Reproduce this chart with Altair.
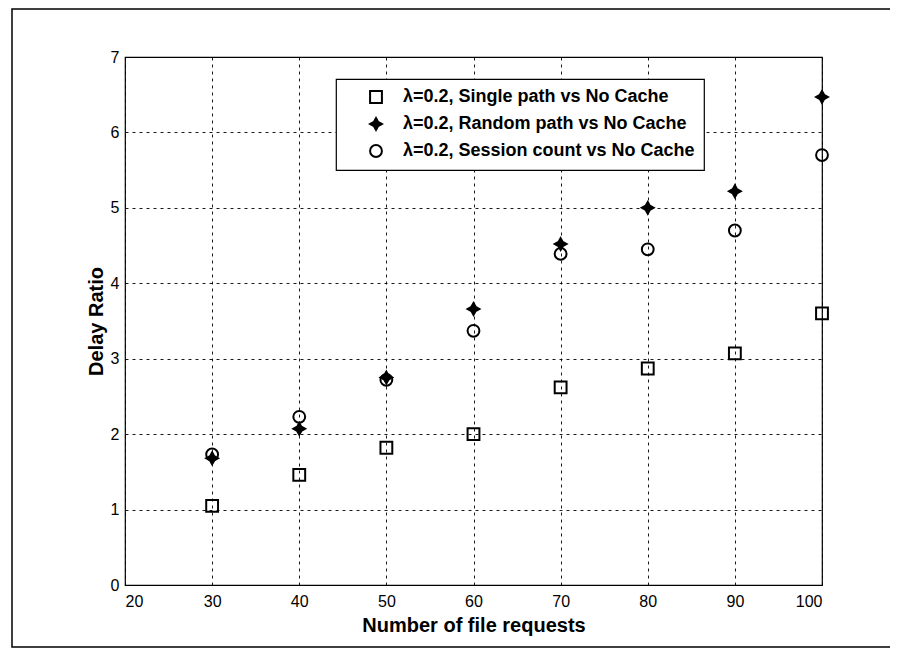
import altair as alt
import pandas as pd

requests = [30, 40, 50, 60, 70, 80, 90, 100]
single_path = [1.05, 1.46, 1.82, 2.00, 2.62, 2.87, 3.07, 3.60]
random_path = [1.68, 2.07, 2.75, 3.66, 4.52, 5.00, 5.22, 6.47]
session_count = [1.73, 2.23, 2.72, 3.37, 4.39, 4.45, 4.70, 5.70]

series_names = [
    "\u03bb=0.2, Single path vs No Cache",
    "\u03bb=0.2, Random path vs No Cache",
    "\u03bb=0.2, Session count vs No Cache",
]
x_ticks = [20, 30, 40, 50, 60, 70, 80, 90, 100]
y_ticks = [0, 1, 2, 3, 4, 5, 6, 7]

rows = []
for name, vals in zip(series_names, [single_path, random_path, session_count]):
    for r, v in zip(requests, vals):
        rows.append({"requests": r, "ratio": v, "series": name})
df = pd.DataFrame(rows)

star = "M0,-1 L0.36,-0.36 L1,0 L0.36,0.36 L0,1 L-0.36,0.36 L-1,0 L-0.36,-0.36 Z"

font = "Liberation Sans"
PW, PH = 697, 528

points = alt.Chart(df).mark_point(strokeWidth=2, size=140, opacity=1).encode(
    x=alt.X("requests:Q",
            scale=alt.Scale(domain=[20, 100], nice=False, zero=False),
            axis=alt.Axis(values=x_ticks, title="Number of file requests")),
    y=alt.Y("ratio:Q",
            scale=alt.Scale(domain=[0, 7], nice=False),
            axis=alt.Axis(values=y_ticks, title="Delay Ratio")),
    shape=alt.Shape("series:N",
                    scale=alt.Scale(domain=series_names, range=["square", star, "circle"]),
                    sort=series_names, title=None),
    fill=alt.Fill("series:N",
                  scale=alt.Scale(domain=series_names, range=["transparent", "black", "transparent"]),
                  sort=series_names, title=None),
    stroke=alt.Stroke("series:N",
                      scale=alt.Scale(domain=series_names, range=["black", "black", "black"]),
                      sort=series_names, title=None),
)

frame_data = alt.Data(values=[{"k": 1}])
page_frame = alt.Chart(frame_data).mark_rect(
    fill="transparent", stroke="black", strokeWidth=1.5
).encode(
    x=alt.value(-113), x2=alt.value(820), y=alt.value(-48), y2=alt.value(590))

chart = alt.layer(page_frame, points).properties(
    width=PW, height=PH,
    autosize=alt.AutoSizeParams(type="none"),
    padding={"left": 117, "top": 49, "right": 68, "bottom": 64},
    background="white",
).configure_view(
    stroke="black", strokeWidth=1.2
).configure_axis(
    grid=True, gridColor="black", gridDash=[3, 4], gridWidth=0.9, gridOpacity=1,
    domain=False, ticks=False,
    labelFont=font, labelFontSize=16, labelColor="black",
    titleFont=font, titleFontSize=20, titleFontWeight="bold", titleColor="black",
).configure_axisX(
    labelPadding=8, titlePadding=6,
).configure_axisY(
    labelPadding=6, titlePadding=4,
).configure_legend(
    orient="none", legendX=211, legendY=22,
    strokeColor="black", strokeWidth=1.2, fillColor="white",
    padding=9, symbolOffset=22, labelOffset=18,
    labelFont=font, labelFontSize=18, labelFontWeight="bold", labelColor="black",
    labelLimit=400, rowPadding=7,
    symbolSize=140, symbolStrokeColor="black", symbolStrokeWidth=2,
)

chart.save("out.html", embed_options={"renderer": "svg", "actions": False})
